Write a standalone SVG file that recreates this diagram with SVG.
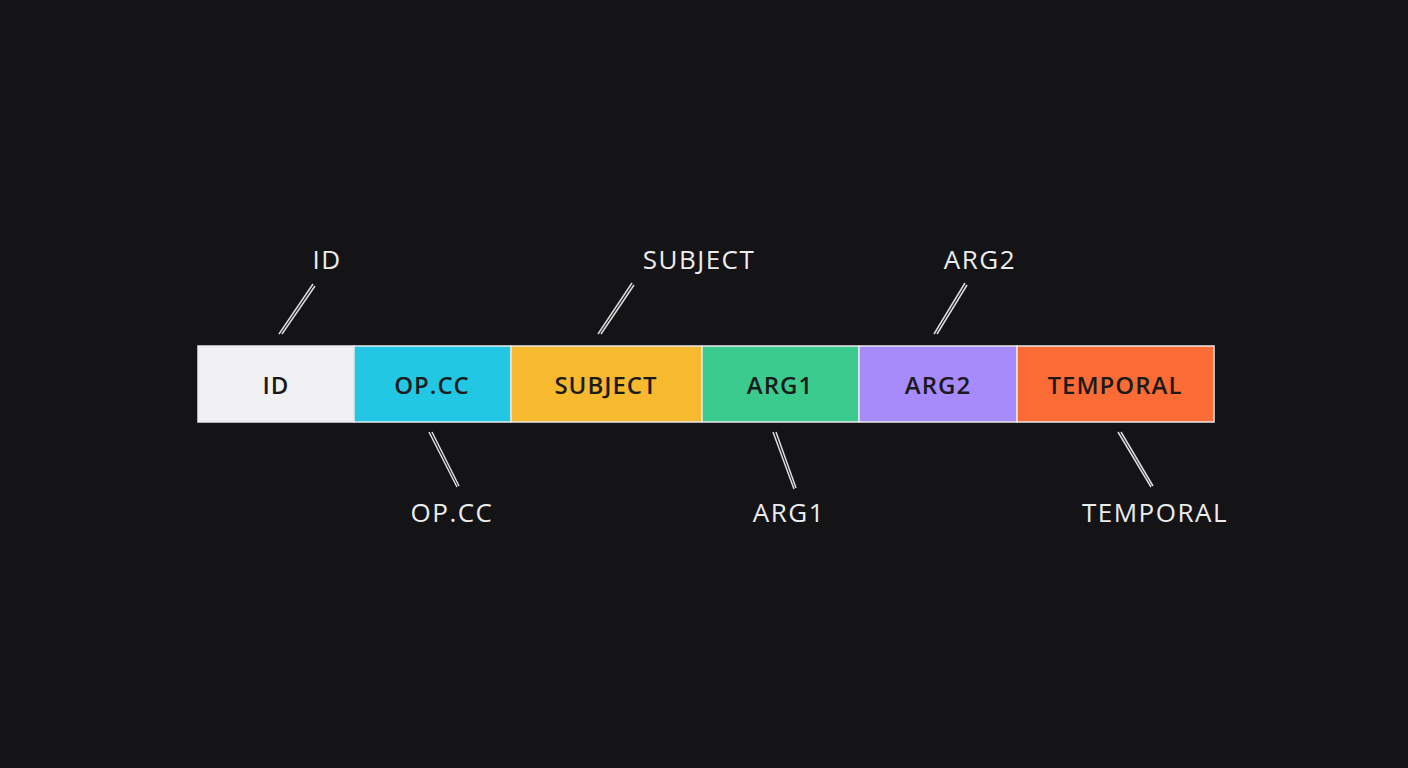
<svg xmlns="http://www.w3.org/2000/svg" width="1408" height="768" viewBox="0 0 1408 768">
<style>
.seg{stroke:#e8e8ea;stroke-width:1.5}
.in{font-family:"Open Sans","DejaVu Sans",sans-serif;font-size:24px;font-weight:600;letter-spacing:1px;fill:#1a1a1a;text-anchor:middle;dominant-baseline:central}
.out{font-family:"Open Sans","DejaVu Sans",sans-serif;font-size:26px;letter-spacing:1.5px;fill:#ececec;text-anchor:middle;dominant-baseline:central}
.ld{stroke:#dcdcdc;stroke-width:1.5;fill:none}
</style>
<rect width="1408" height="768" fill="#141417"/>
<g id="bar">
<g id="n-id"><rect class="seg" x="198" y="346" width="156" height="76" fill="#f1f1f3"/><text class="in" x="276" y="384">ID</text></g>
<g id="n-opcc"><rect class="seg" x="354" y="346" width="157" height="76" fill="#22c7e3"/><text class="in" x="432" y="384">OP.CC</text></g>
<g id="n-subject"><rect class="seg" x="511" y="346" width="191" height="76" fill="#f7b92e"/><text class="in" x="606" y="384">SUBJECT</text></g>
<g id="n-arg1"><rect class="seg" x="702" y="346" width="157" height="76" fill="#3ccb8e"/><text class="in" x="780" y="384">ARG1</text></g>
<g id="n-arg2"><rect class="seg" x="859" y="346" width="158" height="76" fill="#a78bfa"/><text class="in" x="938" y="384">ARG2</text></g>
<g id="n-temporal"><rect class="seg" x="1017" y="346" width="197" height="76" fill="#fb6b35"/><text class="in" x="1115" y="384">TEMPORAL</text></g>
</g>
<g id="labels">
<text class="out" x="327" y="259">ID</text>
<text class="out" x="699" y="259">SUBJECT</text>
<text class="out" x="980" y="259">ARG2</text>
<text class="out" x="452" y="512">OP.CC</text>
<text class="out" x="789" y="512">ARG1</text>
<text class="out" x="1155" y="512">TEMPORAL</text>
</g>
<g id="connectors">
<path class="ld" d="M313 284 L279 334 M315 286 L282 334"/>
<path class="ld" d="M632 283 L598 334 M634 285 L601 334"/>
<path class="ld" d="M965 283 L934 334 M967 285 L937 334"/>
<path class="ld" d="M429 432 L457 487 M432 432 L459 486"/>
<path class="ld" d="M773 432 L794 489 M776 432 L796 488"/>
<path class="ld" d="M1118 432 L1151 487 M1121 432 L1153 486"/>
</g>
</svg>
